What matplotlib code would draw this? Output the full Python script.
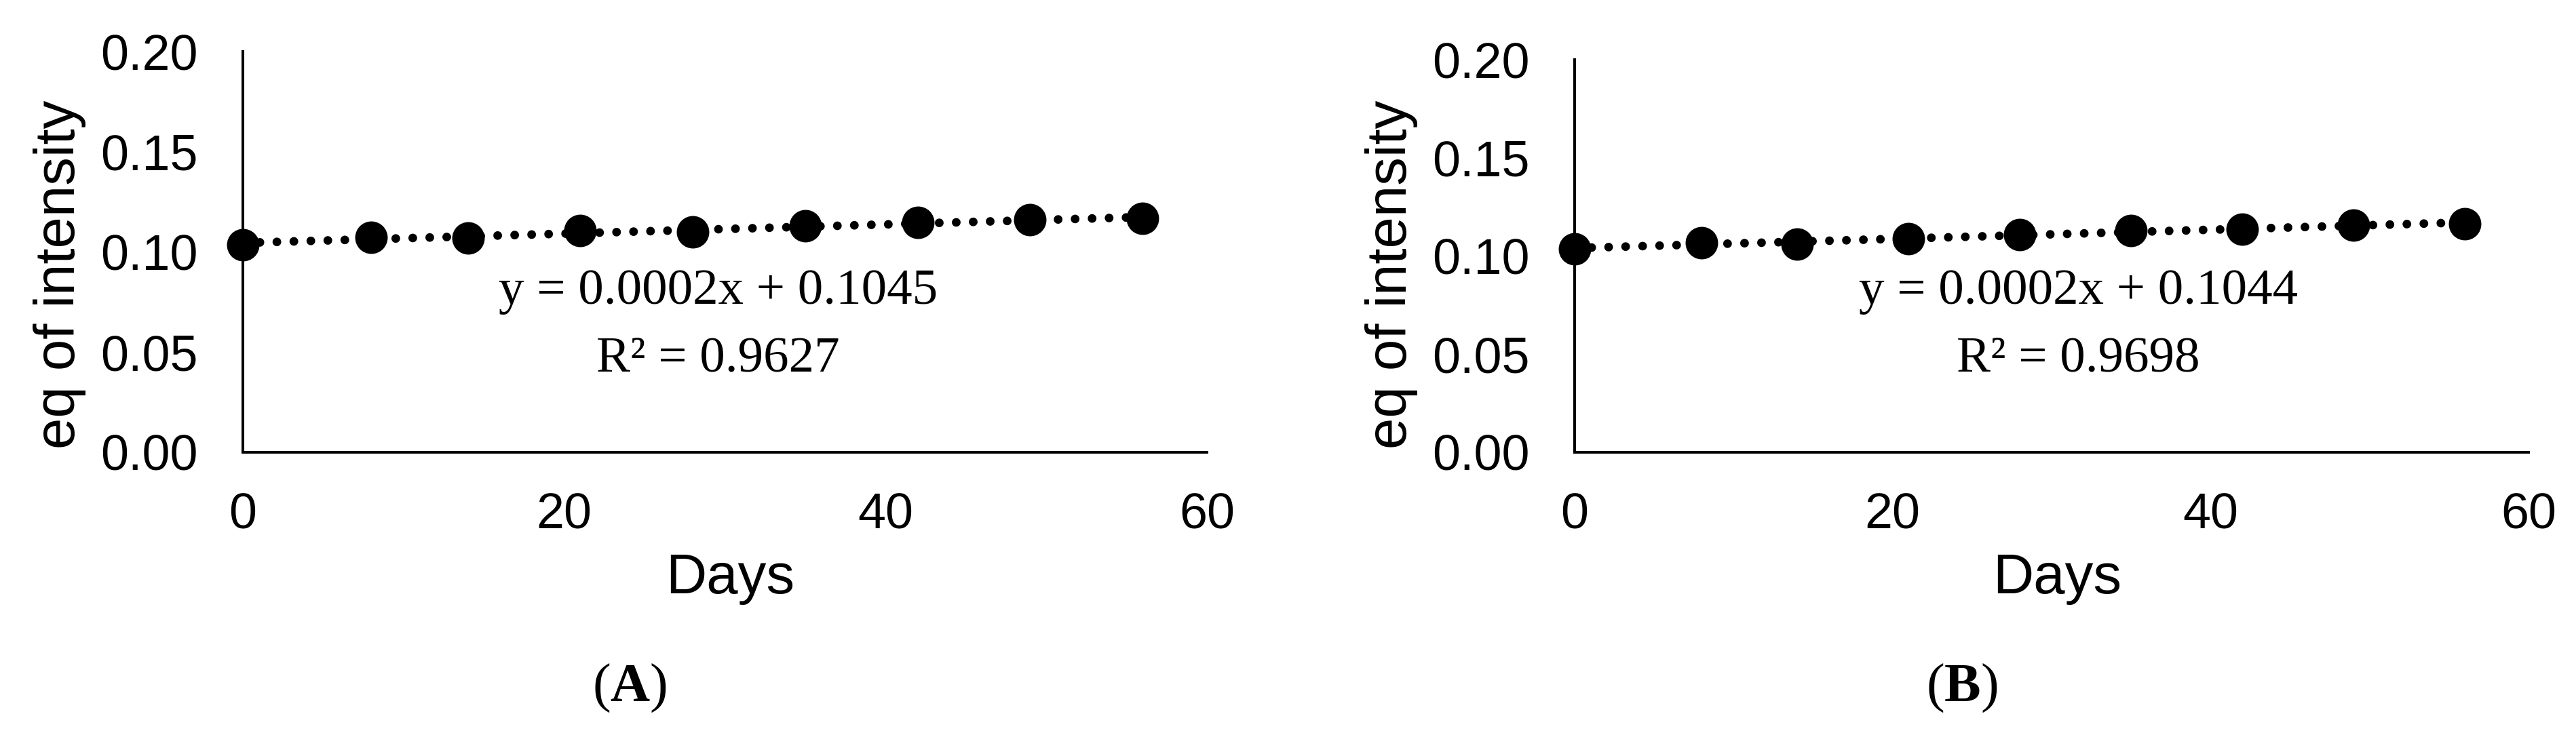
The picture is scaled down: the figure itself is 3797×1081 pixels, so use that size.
import numpy as np
import matplotlib
matplotlib.use("Agg")
import matplotlib.pyplot as plt

# ---- data ----
days = [0, 8, 14, 21, 28, 35, 42, 49, 56]
intensity_a = [0.1037, 0.1072, 0.1070, 0.1106, 0.1100, 0.1131, 0.1147, 0.1160, 0.1166]
intensity_b = [0.1037, 0.1068, 0.1062, 0.1088, 0.1108, 0.1130, 0.1138, 0.1158, 0.1164]
eq_a = ["y = 0.0002x + 0.1045", "R\u00b2 = 0.9627"]
eq_b = ["y = 0.0002x + 0.1044", "R\u00b2 = 0.9698"]
panel_labels = ["A", "B"]
xticks = [0, 20, 40, 60]
yticks = [0.00, 0.05, 0.10, 0.15, 0.20]
xlabel = "Days"
ylabel = "eq of intensity"

plt.rcParams["mathtext.fontset"] = "custom"
plt.rcParams["mathtext.rm"] = "Liberation Serif"
plt.rcParams["mathtext.bf"] = "Liberation Serif:bold"

W, H = 3797, 1081
fig = plt.figure(figsize=(W / 100, H / 100), dpi=100)
fig.patch.set_facecolor("white")

# axes rectangles in pixels: left, right, top(y at 0.20), bottom(y at 0)
rects = [(358, 1779, 76, 667), (2321, 3727, 88, 667)]
eq_xfrac = [0.493, 0.528]
panel_x = [928, 2892]

sans = "Liberation Sans"
serif = "Liberation Serif"

for i, (vals, eq) in enumerate([(intensity_a, eq_a), (intensity_b, eq_b)]):
    l, r, t, b = rects[i]
    ax = fig.add_axes([l / W, (H - b) / H, (r - l) / W, (b - t) / H])
    ax.set_xlim(0, 60)
    ax.set_ylim(0, 0.20)
    for s in ["top", "right"]:
        ax.spines[s].set_visible(False)
    for s in ["left", "bottom"]:
        ax.spines[s].set_linewidth(2.9)
        ax.spines[s].set_color("black")
    ax.set_xticks(xticks)
    ax.set_yticks(yticks)
    ax.set_xticklabels([str(v) for v in xticks], fontfamily=sans, fontsize=53)
    ax.set_yticklabels([f"{v:.2f}" for v in yticks], fontfamily=sans, fontsize=53)
    ax.tick_params(axis="both", length=0)
    ax.tick_params(axis="y", pad=48)
    ax.tick_params(axis="x", pad=42)

    # trendline (Excel round-dot style)
    coef = np.polyfit(days, vals, 1)
    xs = np.array([min(days), max(days)])
    ax.plot(xs, np.polyval(coef, xs), color="black", lw=9.2,
            linestyle=(0, (0.01, 1.95)), dash_capstyle="round", zorder=2)
    ax.plot(days, vals, "o", color="black", markersize=33.5, zorder=3, clip_on=False)

    hpx = b - t
    wpx = r - l
    ax.set_xlabel(xlabel, fontfamily=sans, fontsize=60, va="baseline")
    ax.xaxis.set_label_coords(0.5 + (8 / wpx), -(875 - b) / hpx)
    ax.set_ylabel(ylabel, fontfamily=sans, fontsize=60, va="center")
    ax.yaxis.set_label_coords(-(358 - 88) / wpx, (b - 405) / hpx)

    ax.text(eq_xfrac[i], (b - 448) / hpx, eq[0], transform=ax.transAxes,
            ha="center", va="baseline", fontfamily=serif, fontsize=54)
    ax.text(eq_xfrac[i], (b - 548) / hpx, eq[1], transform=ax.transAxes,
            ha="center", va="baseline", fontfamily=serif, fontsize=54)

    fig.text(panel_x[i] / W, (H - 1014) / H, r"$(\mathbf{" + panel_labels[i] + r"})$",
             ha="center", va="center", fontsize=58)

fig.savefig("out.png", dpi=100, facecolor="white")
